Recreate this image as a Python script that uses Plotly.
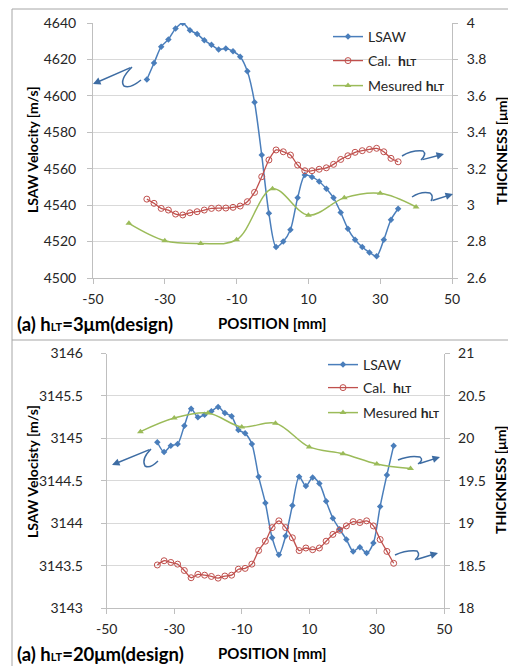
import plotly.graph_objects as go

# ---------------- data ----------------
positions = [-35, -33, -31, -29, -27, -25, -23, -21, -19, -17, -15, -13, -11, -9, -7, -5,
             -3, -1, 1, 3, 5, 7, 9, 11, 13, 15, 17, 19, 21, 23, 25, 27, 29, 31, 33, 35]
meas_positions = [-40, -30, -20, -10, 0, 10, 20, 30, 40]

lsaw_top = [4609, 4618, 4627, 4631, 4637, 4640, 4636, 4634, 4630.5, 4628, 4625.5, 4626,
            4624.5, 4621.5, 4613.5, 4596.5, 4567.5, 4535.5, 4517, 4520, 4526.5, 4544,
            4556.5, 4555.5, 4553, 4549, 4544, 4536, 4527, 4521, 4517, 4514, 4512, 4521,
            4532, 4538]
cal_top = [3.033, 3.010, 2.982, 2.973, 2.951, 2.946, 2.958, 2.964, 2.973, 2.982, 2.984,
           2.984, 2.988, 2.995, 3.019, 3.070, 3.156, 3.248, 3.303, 3.293, 3.275, 3.220,
           3.189, 3.189, 3.197, 3.205, 3.224, 3.251, 3.271, 3.290, 3.299, 3.306, 3.312,
           3.293, 3.257, 3.238]
meas_top = [2.90, 2.805, 2.79, 2.81, 3.09, 2.945, 3.04, 3.065, 2.99]

lsaw_bot = [3144.955, 3144.84, 3144.915, 3144.935, 3145.15, 3145.35, 3145.25, 3145.28,
            3145.32, 3145.37, 3145.30, 3145.26, 3145.10, 3145.06, 3144.935, 3144.55,
            3144.24, 3143.83, 3143.63, 3143.85, 3144.21, 3144.55, 3144.44, 3144.54,
            3144.47, 3144.26, 3144.06, 3143.93, 3143.81, 3143.67, 3143.72, 3143.65,
            3143.77, 3144.20, 3144.57, 3144.915]
cal_bot = [18.51, 18.56, 18.54, 18.52, 18.445, 18.36, 18.40, 18.39, 18.375, 18.355, 18.38,
           18.39, 18.46, 18.47, 18.52, 18.68, 18.79, 18.95, 19.03, 18.95, 18.83, 18.68,
           18.71, 18.69, 18.71, 18.79, 18.87, 18.92, 18.97, 19.02, 19.01, 19.03, 18.97,
           18.81, 18.67, 18.53]
meas_bot = [20.08, 20.24, 20.30, 20.135, 20.18, 19.90, 19.82, 19.70, 19.645]

x_ticks = [-50, -30, -10, 10, 30, 50]
x_tick_text = ["-50", "-30", "-10", "10", "30", "50"]
top_left_ticks = [4500, 4520, 4540, 4560, 4580, 4600, 4620, 4640]
top_left_text = ["4500", "4520", "4540", "4560", "4580", "4600", "4620", "4640"]
top_right_ticks = [2.6, 2.8, 3.0, 3.2, 3.4, 3.6, 3.8, 4.0]
top_right_text = ["2.6", "2.8", "3", "3.2", "3.4", "3.6", "3.8", "4"]
bot_left_ticks = [3143, 3143.5, 3144, 3144.5, 3145, 3145.5, 3146]
bot_left_text = ["3143", "3143.5", "3144", "3144.5", "3145", "3145.5", "3146"]
bot_right_ticks = [18, 18.5, 19, 19.5, 20, 20.5, 21]
bot_right_text = ["18", "18.5", "19", "19.5", "20", "20.5", "21"]

# ---------------- style ----------------
W, H = 516, 666
OFF = 8  # page body margin offset
FONT = "Lato"
BLUE = "#4A7EBB"
RED = "#C0504D"
GREEN = "#9BBB59"
ARROW = "#3D6CA3"
GRID = "#D9D9D9"
AXL = "#BFBFBF"
TXT = "#262626"

def px(x, y):
    return (x - OFF) / W, 1 - (y - OFF) / H

hlt = "<b>h<span style='font-size:10px'>LT</span></b>"

fig = go.Figure()

def add_set(lsaw, cal, meas, xa, ya, ya2, legs):
    fig.add_trace(go.Scatter(
        x=positions, y=lsaw, name="LSAW", mode="lines+markers", showlegend=True,
        line=dict(color=BLUE, width=1.5, shape="spline", smoothing=0.8),
        marker=dict(symbol="diamond", size=5, color=BLUE),
        xaxis=xa, yaxis=ya, legend=legs[0]))
    fig.add_trace(go.Scatter(
        x=positions, y=cal, name="Cal.  " + hlt, mode="lines+markers", showlegend=True,
        line=dict(color=RED, width=1.3, shape="spline", smoothing=0.8),
        marker=dict(symbol="circle-open", size=6, color=RED, line=dict(width=1)),
        xaxis=xa, yaxis=ya2, legend=legs[1]))
    fig.add_trace(go.Scatter(
        x=meas_positions, y=meas, name="Mesured " + hlt, mode="lines+markers",
        showlegend=True,
        line=dict(color=GREEN, width=1.5, shape="spline", smoothing=1.0),
        marker=dict(symbol="triangle-up", size=6, color=GREEN),
        xaxis=xa, yaxis=ya2, legend=legs[2]))

add_set(lsaw_top, cal_top, meas_top, "x", "y", "y2", ["legend", "legend2", "legend3"])
add_set(lsaw_bot, cal_bot, meas_bot, "x2", "y3", "y4", ["legend4", "legend5", "legend6"])

tickfont = dict(family=FONT, size=14, color=TXT)

def xaxis_cfg(dom, anchor):
    return dict(domain=dom, anchor=anchor, range=[-50, 50], tickvals=x_ticks,
                ticktext=x_tick_text, ticklabelstandoff=3,
                showgrid=False, zeroline=False, showline=True, linecolor=AXL,
                ticks="outside", ticklen=5, tickcolor=AXL, tickfont=tickfont,
                automargin=False)

def yaxis_cfg(dom, anchor, rng, vals, text, standoff, side="left", overlay=None):
    d = dict(domain=dom, anchor=anchor, range=rng, tickvals=vals, ticktext=text,
             zeroline=False, showline=True, linecolor=AXL, ticks="outside", ticklen=5,
             tickcolor=AXL, tickfont=tickfont, side=side, automargin=False,
             ticklabelstandoff=standoff)
    if overlay:
        d.update(overlaying=overlay, showgrid=False)
    else:
        d.update(showgrid=True, gridcolor=GRID, gridwidth=1)
    return d

def xdom(a, b):
    return [px(a, 0)[0], px(b, 0)[0]]

def ydom(bottom, top):
    return [px(0, bottom)[1], px(0, top)[1]]

xt = xdom(93, 452)
yt = ydom(278, 23)
xb = xdom(106.7, 444.3)
yb = ydom(608.3, 353.5)

def legend_at(xtext, ycenter):
    a, b = px(xtext - 37, ycenter)
    return dict(x=a, y=b, xanchor="left", yanchor="middle", visible=True,
                bgcolor="rgba(0,0,0,0)", borderwidth=0,
                font=dict(family=FONT, size=14, color=TXT))

fig.update_layout(
    template="none",
    showlegend=True,
    width=W, height=H, margin=dict(l=0, r=0, t=0, b=0, pad=0, autoexpand=False),
    paper_bgcolor="white", plot_bgcolor="white",
    font=dict(family=FONT, color=TXT),
    xaxis=xaxis_cfg(xt, "y"),
    yaxis=yaxis_cfg(yt, "x", [4500, 4640], top_left_ticks, top_left_text, 8),
    yaxis2=yaxis_cfg(yt, "x", [2.6, 4.0], top_right_ticks, top_right_text, 6,
                     side="right", overlay="y"),
    xaxis2=xaxis_cfg(xb, "y3"),
    yaxis3=yaxis_cfg(yb, "x2", [3143, 3146], bot_left_ticks, bot_left_text, 15),
    yaxis4=yaxis_cfg(yb, "x2", [18, 21], bot_right_ticks, bot_right_text, 5,
                     side="right", overlay="y3"),
    legend=legend_at(365, 37),
    legend2=legend_at(365, 61),
    legend3=legend_at(365, 86),
    legend4=legend_at(360, 365),
    legend5=legend_at(360, 388),
    legend6=legend_at(360, 413),
)

shapes = []
# frame lines
for (x0, y0, x1, y1) in [(12, 9, 530, 9), (12, 9, 12, 680), (12, 340, 530, 340)]:
    a, b = px(x0, y0)
    c, d = px(x1, y1)
    shapes.append(dict(type="line", xref="paper", yref="paper", x0=a, y0=b, x1=c, y1=d,
                       line=dict(color="#A6A6A6", width=1)))

def wiggle(pts):
    p = [px(*q) for q in pts]
    path = "M %f %f Q %f %f %f %f Q %f %f %f %f" % (p[0][0], p[0][1], p[1][0], p[1][1],
                                                    p[2][0], p[2][1], p[3][0], p[3][1],
                                                    p[4][0], p[4][1])
    shapes.append(dict(type="path", xref="paper", yref="paper", path=path,
                       line=dict(color=ARROW, width=1.5)))

annotations = []

def arrow(tail, head):
    hx, hy = px(*head)
    annotations.append(dict(x=hx, y=hy, xref="paper", yref="paper", text="",
                            showarrow=True, ax=tail[0] - head[0], ay=tail[1] - head[1],
                            axref="pixel", ayref="pixel", arrowhead=2, arrowsize=1,
                            arrowwidth=1.5, arrowcolor=ARROW))

# top-left
wiggle([(141, 80), (130, 89), (124, 86), (119, 80), (132, 67)])
arrow((132, 67), (93, 84))
# top-right
wiggle([(402, 156), (412, 150), (423, 151), (427, 154), (421, 160)])
arrow((421, 160), (444, 154))
wiggle([(412, 197), (421, 191), (430, 193), (434, 196), (431, 201)])
arrow((431, 201), (453, 194))
# bottom-left
wiggle([(158, 461), (150, 469), (145, 466), (141, 459), (151, 449)])
arrow((151, 449), (112, 465))
# bottom-right
wiggle([(398, 460), (410, 455), (420, 457), (424, 460), (418, 464)])
arrow((418, 464), (440, 457))
wiggle([(395, 555), (406, 550), (417, 551), (421, 555), (415, 560)])
arrow((415, 560), (438, 553))

def label(text, x, y, size, angle=0, anchor="center"):
    a, b = px(x, y)
    annotations.append(dict(x=a, y=b, xref="paper", yref="paper", text=text,
                            showarrow=False, xanchor=anchor, yanchor="middle",
                            textangle=angle,
                            font=dict(family=FONT, size=size, color="#000000")))

# axis titles
label("<b>LSAW Velocity [m/s]</b>", 33, 150, 14, angle=-90)
label("<b>THICKNESS [μm]</b>", 501, 151, 14, angle=-90)
label("<b>POSITION [mm]</b>", 272, 323, 15)
label("<b>LSAW Velocisty [m/s]</b>", 33, 472, 14, angle=-90)
label("<b>THICKNESS [μm]</b>", 500, 480, 14, angle=-90)
label("<b>POSITION [mm]</b>", 272, 653, 15)

# panel captions
label("<b>(a) h<span style='font-size:11px'>LT</span>=3μm(design)</b>", 15, 324, 18.5, anchor="left")
label("<b>(a) h<span style='font-size:11px'>LT</span>=20μm(design)</b>", 15, 654, 18.5, anchor="left")

fig.update_layout(shapes=shapes, annotations=annotations)
fig.write_html("out.html")
